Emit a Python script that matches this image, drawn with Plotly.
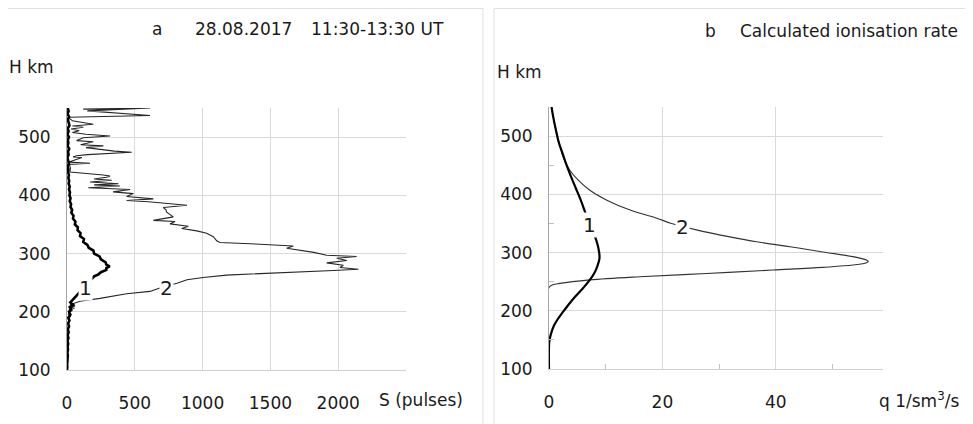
import plotly.graph_objects as go

# page body has an 8px margin: figure drawn at (8,8); positions below are given in window pixels
OFF = 8
W, H = 973 - OFF, 424 - OFF

# ---------------- Panel a: S (pulses) vs H km ----------------
a_curve2_H = [548, 550, 545, 537, 534, 528, 522, 519, 517, 514, 511, 508, 505, 502, 499, 494, 492, 489, 487, 485, 482, 476,
              474, 470, 468, 466, 465, 457, 455, 453, 451, 447, 443, 440, 435, 433, 431, 428, 426, 423, 420, 418, 416,
              413, 410, 406, 403, 398, 394, 391, 389, 383, 379, 375, 371, 363, 357, 355, 351, 347, 343, 339, 335, 329,
              322, 319, 316, 313, 309, 306, 302, 297, 295, 292, 288, 284, 280, 276, 273, 271, 267, 263, 259, 255, 249,
              242, 235, 231, 223, 218, 212, 210, 208, 206, 204, 202, 200, 196, 192, 188, 184, 180, 175, 170, 165, 160,
              155, 150, 145, 140, 135, 130, 125, 120, 115, 110, 105, 100]
a_curve2_S = [120, 612, 150, 612, 10, 40, 194, 40, 120, 30, 90, 40, 140, 317, 120, 71, 194, 130, 100, 268, 140, 350,
              477, 150, 71, 45, 110, 10, 170, 10, 20, 25, 22, 22, 268, 317, 290, 200, 330, 170, 380, 200, 390,
              157, 465, 340, 489, 440, 637, 440, 600, 885, 710, 730, 735, 784, 637, 797, 760, 895, 846, 957, 1030, 1079,
              1104, 1128, 1423, 1669, 1620, 1718, 1820, 1915, 2136, 1989, 2063, 1915, 2038, 2013, 2149, 1964, 1546, 1177, 1005, 885, 811,
              700, 612, 440, 243, 96, 22, 60, 20, 55, 15, 40, 20, 10, 25, 8, 15, 5, 18, 6, 12, 4,
              14, 5, 10, 3, 12, 4, 8, 3, 6, 2, 4, 0]

a_curve1_H = [550, 545, 540, 535, 530, 525, 520, 515, 510, 505, 500, 495, 490, 485, 480, 475, 470, 465, 460, 455, 450,
              445, 440, 435, 430, 425, 420, 415, 410, 405, 400, 395, 390, 385, 380, 375, 370, 365, 360, 355, 350, 345,
              340, 335, 330, 325, 320, 315, 310, 305, 300, 295, 290, 285, 281, 278, 275, 272, 268, 264, 261,
              243, 225, 220, 216, 212, 208, 204, 200, 195, 190, 185, 180, 175, 170, 165,
              160, 155, 150, 145, 140, 135, 130, 125, 120, 115, 110, 105, 100]
a_curve1_S = [5, 12, 4, 15, 6, 10, 18, 5, 12, 3, 14, 6, 10, 4, 16, 7, 12, 3, 10, 14, 5,
              10, 8, 14, 10, 16, 12, 20, 15, 22, 18, 26, 20, 30, 26, 38, 32, 48, 44, 62, 58, 80,
              78, 100, 96, 125, 120, 150, 160, 195, 200, 240, 250, 285, 290, 315, 290, 290, 250, 230, 200,
              128, 55, 40, 25, 45, 20, 30, 15, 25, 10, 18, 8, 15, 6, 12,
              5, 10, 3, 9, 4, 7, 2, 6, 3, 4, 1, 2, 0]

a_xticks = [0, 500, 1000, 1500, 2000]
h_ticks = [100, 200, 300, 400, 500]

# ---------------- Panel b: calculated ionisation rate ----------------
b_curve1_H = [550, 530, 510, 490, 470, 450, 430, 410, 390, 370, 350, 330, 316, 300, 290, 276, 265, 253, 240,
              224, 210, 196, 185, 175, 162, 150, 140, 100]
b_curve1_q = [0.45, 0.8, 1.23, 1.7, 2.4, 3.1, 3.9, 4.75, 5.6, 6.35, 7.2, 8.0, 8.5, 8.85, 8.9, 8.5, 8.0, 7.2, 6.1,
              4.6, 3.4, 2.3, 1.5, 0.9, 0.4, 0.1, 0.0, 0.0]

b_curve2_H = [550, 530, 510, 490, 470, 455, 441, 424, 407, 390, 373, 359, 350, 339, 327, 318.5, 310, 301, 293, 287,
              285, 282.5, 278.5, 274.6, 270, 264, 258.5, 253, 247, 244, 240, 100]
b_curve2_q = [0.45, 0.8, 1.23, 1.75, 2.3, 2.9, 3.7, 5.2, 7.2, 10.2, 14.3, 19.0, 21.6, 26.0, 31.9, 36.6, 42.5, 48.3, 53.6, 56.0,
              56.3, 56.0, 53.6, 48.3, 39.5, 27.8, 16.0, 7.2, 1.9, 0.47, 0.0, 0.0]

b_xticks = [0, 20, 40]

FONT = "DejaVu Sans"
TXT = "#1a1a1a"
GRID = "#d9d9d9"


def fx(px):
    return (px - OFF) / W


def fy(py):
    return 1 - (py - OFF) / H


fig = go.Figure()
fig.add_trace(go.Scatter(x=a_curve2_S, y=a_curve2_H, mode="lines", line=dict(color="#262626", width=1.1),
                         xaxis="x", yaxis="y", showlegend=False, hoverinfo="skip"))
fig.add_trace(go.Scatter(x=a_curve1_S, y=a_curve1_H, mode="lines", line=dict(color="#000000", width=2.6),
                         xaxis="x", yaxis="y", showlegend=False, hoverinfo="skip"))
fig.add_trace(go.Scatter(x=b_curve2_q, y=b_curve2_H, mode="lines", line=dict(color="#333333", width=1.1, shape="spline"),
                         xaxis="x2", yaxis="y2", showlegend=False, hoverinfo="skip"))
fig.add_trace(go.Scatter(x=b_curve1_q, y=b_curve1_H, mode="lines", line=dict(color="#000000", width=2.2, shape="spline"),
                         xaxis="x2", yaxis="y2", showlegend=False, hoverinfo="skip"))

tickfont = dict(family=FONT, size=17, color=TXT)

fig.update_layout(
    width=W, height=H, margin=dict(l=0, r=0, t=0, b=0, autoexpand=False),
    paper_bgcolor="white", plot_bgcolor="white",
    font=dict(family=FONT, color=TXT),
    xaxis=dict(domain=[fx(67), fx(406)], range=[0, 2500], tickvals=a_xticks, anchor="y", automargin=False,
               showgrid=True, gridcolor=GRID, gridwidth=1, zeroline=False,
               showline=True, linecolor="#d0d0d0", linewidth=1,
               ticks="outside", ticklen=18, tickcolor="rgba(0,0,0,0)", tickfont=tickfont),
    yaxis=dict(domain=[fy(370), fy(108)], range=[100, 550], tickvals=h_ticks, anchor="x", automargin=False,
               showgrid=True, gridcolor=GRID, gridwidth=1, zeroline=False,
               showline=True, linecolor="#a6a6a6", linewidth=1,
               ticks="outside", ticklen=12, tickcolor="rgba(0,0,0,0)", tickfont=tickfont),
    xaxis2=dict(domain=[fx(549), fx(883)], range=[0, 58.9], tickvals=b_xticks, anchor="y2", automargin=False,
                showgrid=True, gridcolor=GRID, gridwidth=1, zeroline=False,
                showline=True, linecolor="#d0d0d0", linewidth=1,
                ticks="outside", ticklen=18, tickcolor="rgba(0,0,0,0)", tickfont=tickfont,
                minor=dict(tickvals=[10, 30, 50], ticks="inside", ticklen=5, tickcolor="#bfbfbf", showgrid=False)),
    yaxis2=dict(domain=[fy(369), fy(107)], range=[100, 550], tickvals=h_ticks, anchor="x2", automargin=False,
                showgrid=True, gridcolor=GRID, gridwidth=1, zeroline=False,
                showline=True, linecolor="#a6a6a6", linewidth=1,
                ticks="outside", ticklen=12, tickcolor="rgba(0,0,0,0)", tickfont=tickfont,
                minor=dict(tickvals=[150, 250, 350, 450], ticks="inside", ticklen=5, tickcolor="#bfbfbf", showgrid=False)),
)


def ann(text, px, py, size=17, xanchor="left"):
    fig.add_annotation(text=text, x=fx(px), y=fy(py), xref="paper", yref="paper", xanchor=xanchor,
                       yanchor="middle", showarrow=False, font=dict(family=FONT, size=size, color=TXT))


def label(text, x, y, xa, ya):
    fig.add_annotation(text=text, x=x, y=y, xref=xa, yref=ya, showarrow=False, bgcolor="white", borderpad=0,
                       xanchor="center", yanchor="middle", font=dict(family=FONT, size=20, color=TXT))


# titles
ann("a", 150, 29.5)
ann("28.08.2017", 193, 29.5)
ann("11:30-13:30 UT", 309, 29.5)
ann("b", 703, 31)
ann("Calculated ionisation rate", 738, 31)
ann("H km", 7, 67)
ann("H km", 495, 72)
ann("S (pulses)", 377, 400)
ann("q 1/sm<sup>3</sup>/s", 877, 400)

# curve labels
label("1", 133, 241, "x", "y")
label("2", 737, 241, "x", "y")
label("1", 7.2, 347, "x2", "y2")
label("2", 23.6, 344, "x2", "y2")

# panel borders (vertical separators; the top edge lies above the drawable area)
fig.add_shape(type="rect", xref="paper", yref="paper", x0=fx(-2), x1=fx(483), y0=fy(440), y1=fy(8.5),
              line=dict(color="#e0e0e0", width=1), fillcolor="rgba(0,0,0,0)", layer="below")
fig.add_shape(type="rect", xref="paper", yref="paper", x0=fx(494), x1=fx(980), y0=fy(440), y1=fy(8.5),
              line=dict(color="#e0e0e0", width=1), fillcolor="rgba(0,0,0,0)", layer="below")

fig.write_html("out.html")
